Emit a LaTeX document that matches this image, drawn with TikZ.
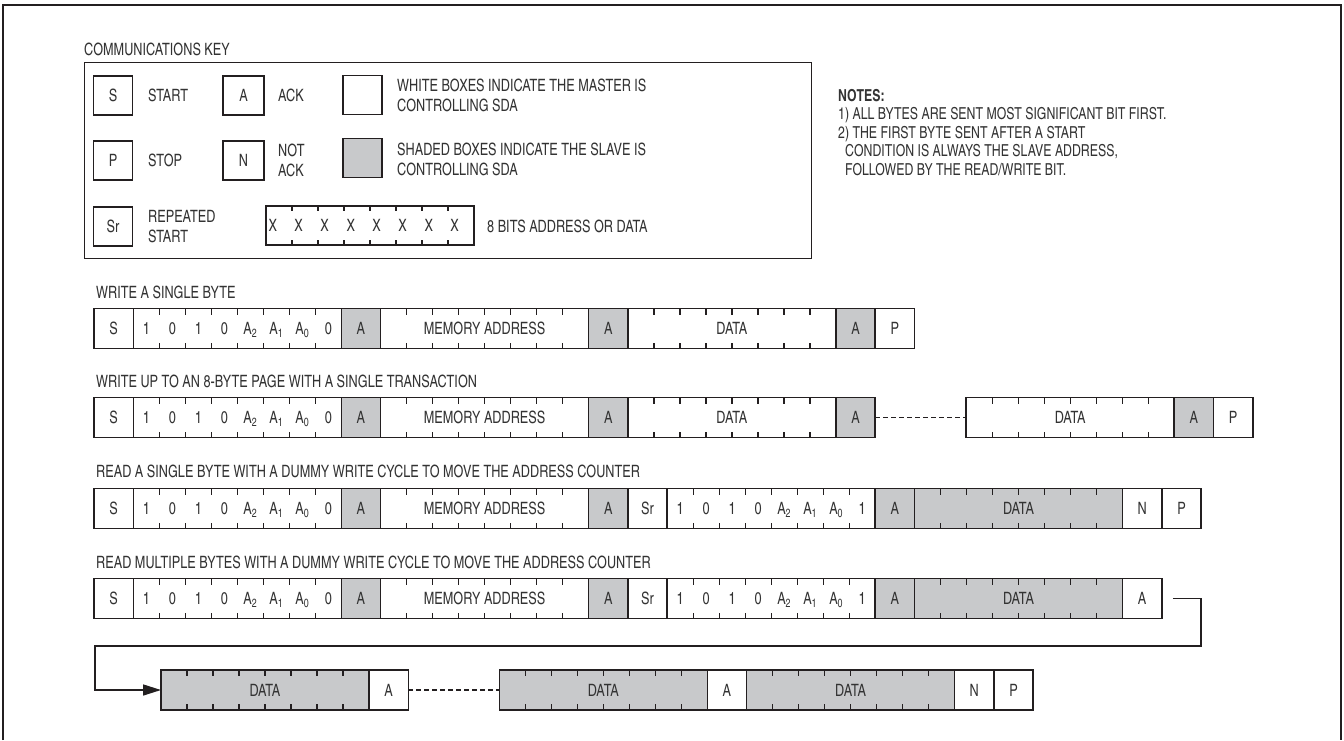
\documentclass[tikz,border=0pt]{standalone}
\usepackage{fontspec}
\setmainfont{TeX Gyre Heros Cn}[FakeStretch=0.91]
\usetikzlibrary{arrows.meta, positioning, calc}
\definecolor{linedark}{HTML}{231F20}
\definecolor{textdark}{HTML}{333333}
\definecolor{slavegray}{HTML}{C8C9CB}

\newcommand{\diagfont}{\fontsize{17bp}{20bp}\selectfont}
\newcommand{\notefont}{\fontsize{16.5bp}{18.5bp}\selectfont}
\newcommand{\bitcell}[1]{\makebox[26bp]{#1}}
\newcommand{\slaveaddr}[1]{\bitcell{1}\bitcell{0}\bitcell{1}\bitcell{0}\bitcell{A\textsubscript{2}}\bitcell{A\textsubscript{1}}\bitcell{A\textsubscript{0}}\bitcell{#1}}
\newcommand{\xcell}{\makebox[26bp][l]{\hspace*{2.5bp}X}}

\begin{document}
\begin{tikzpicture}[
    x=1bp, y=-1bp,
    every node/.style={font=\diagfont, text=textdark},
    >={Triangle[length=18bp, width=11bp]},
    ticked/.style={path picture={
        \foreach \k in {1,...,7} {
          \draw[linedark, line width=1.2bp]
            ($(path picture bounding box.north west)!{\k/8}!(path picture bounding box.north east)$) -- ++(0,#1)
            ($(path picture bounding box.south west)!{\k/8}!(path picture bounding box.south east)$) -- ++(0,-#1);
        }}},
    cell/.style={draw=linedark, fill=white, line width=1.6bp, inner sep=0pt, outer sep=0pt,
                 minimum height=40bp, text height=12bp, text depth=0pt},
    single/.style={cell, minimum width=39.3bp},
    byte/.style={cell, minimum width=208bp, ticked=6},
    slave/.style={fill=slavegray},
    keysym/.style={cell, minimum width=39bp, minimum height=39bp},
    keytext/.style={anchor=west, align=left, inner sep=0pt},
    rowlabel/.style={anchor=west, inner sep=0pt},
    dashline/.style={draw=linedark, line width=1.2bp, dash pattern=on 5bp off 3bp},
    wire/.style={draw=linedark, line width=1.6bp},
]

\useasboundingbox (0,0) rectangle (1344,740);

% Outer frame (open at the bottom)
\draw[linedark, line width=2.6bp] (3,740) |- (1341,5) -- (1341,740);

% =============================================
% COMMUNICATIONS KEY
% =============================================
\node[rowlabel] (keytitle) at (84,49) {COMMUNICATIONS KEY};
\node[draw=linedark, line width=1.4bp, anchor=north west, inner sep=0pt,
      minimum width=727bp, minimum height=196bp] (keyframe) at (84,62) {};

\node[keysym] (kstart) at (113,95.5) {S};
\node[keytext] (kstarttxt) at (148,95.5) {START};
\node[keysym, minimum width=41bp] (kack) at (243.5,95.5) {A};
\node[keytext] (kacktxt) at (278,95.5) {ACK};
\node[keysym] (kmaster) at (362.5,95) {};
\node[keytext] (kmastertxt) at (397,95) {WHITE BOXES INDICATE THE MASTER IS\\CONTROLLING SDA};

\node[keysym] (kstop) at (113,160.5) {P};
\node[keytext] (kstoptxt) at (148,160.5) {STOP};
\node[keysym, minimum width=41bp] (knack) at (243.5,160.5) {N};
\node[keytext] (knacktxt) at (278,160) {NOT\\ACK};
\node[keysym, slave] (kslave) at (362.5,158) {};
\node[keytext] (kslavetxt) at (397,159.5) {SHADED BOXES INDICATE THE SLAVE IS\\CONTROLLING SDA};

\node[keysym] (krestart) at (113,226.5) {Sr};
\node[keytext] (krestarttxt) at (148,226.5) {REPEATED\\START};
\node[keysym, minimum width=208bp, ticked=5] (kbits) at (370,225.5)
     {\xcell\xcell\xcell\xcell\xcell\xcell\xcell\xcell};
\node[keytext] (kbitstxt) at (487,226.5) {8 BITS ADDRESS OR DATA};

% Notes
\node[anchor=north west, align=left, inner sep=0pt, font=\notefont] (notes) at (838,89)
     {\textbf{NOTES:}\\
      1) ALL BYTES ARE SENT MOST SIGNIFICANT BIT FIRST.\\
      2) THE FIRST BYTE SENT AFTER A START\\
      \hspace*{7bp}CONDITION IS ALWAYS THE SLAVE ADDRESS,\\
      \hspace*{7bp}FOLLOWED BY THE READ/WRITE BIT.};

% =============================================
% WRITE A SINGLE BYTE
% =============================================
\node[rowlabel] (lblwrite) at (96,292) {WRITE A SINGLE BYTE};
\node[single, anchor=west] (ws) at (94,328.5) {S};
\node[byte, right=0pt of ws] (wdev) {\slaveaddr{0}};
\node[single, slave, right=0pt of wdev] (wack1) {A};
\node[byte, right=0pt of wack1] (wmem) {MEMORY ADDRESS};
\node[single, slave, right=0pt of wmem] (wack2) {A};
\node[byte, right=0pt of wack2] (wdata) {DATA};
\node[single, slave, right=0pt of wdata] (wack3) {A};
\node[single, right=0pt of wack3] (wp) {P};

% =============================================
% WRITE A PAGE
% =============================================
\node[rowlabel] (lblpage) at (96,381) {WRITE UP TO AN 8-BYTE PAGE WITH A SINGLE TRANSACTION};
\node[single, anchor=west] (ps) at (94,417.5) {S};
\node[byte, right=0pt of ps] (pdev) {\slaveaddr{0}};
\node[single, slave, right=0pt of pdev] (pack1) {A};
\node[byte, right=0pt of pack1] (pmem) {MEMORY ADDRESS};
\node[single, slave, right=0pt of pmem] (pack2) {A};
\node[byte, right=0pt of pack2] (pdata1) {DATA};
\node[single, slave, right=0pt of pdata1] (pack3) {A};
\node[byte, right=91bp of pack3] (pdatan) {DATA};
\node[single, slave, right=0pt of pdatan] (packn) {A};
\node[single, right=0pt of packn] (pp) {P};
\draw[dashline] (pack3) -- (pdatan);

% =============================================
% READ A SINGLE BYTE
% =============================================
\node[rowlabel] (lblread) at (96,471) {READ A SINGLE BYTE WITH A DUMMY WRITE CYCLE TO MOVE THE ADDRESS COUNTER};
\node[single, anchor=west] (rs) at (94,508.5) {S};
\node[byte, right=0pt of rs] (rdev) {\slaveaddr{0}};
\node[single, slave, right=0pt of rdev] (rack1) {A};
\node[byte, right=0pt of rack1] (rmem) {MEMORY ADDRESS};
\node[single, slave, right=0pt of rmem] (rack2) {A};
\node[single, right=0pt of rack2] (rsr) {Sr};
\node[byte, right=0pt of rsr] (rdevrd) {\slaveaddr{1}};
\node[single, slave, right=0pt of rdevrd] (rack3) {A};
\node[byte, slave, right=0pt of rack3] (rdata) {DATA};
\node[single, right=0pt of rdata] (rnack) {N};
\node[single, right=0pt of rnack] (rp) {P};

% =============================================
% READ MULTIPLE BYTES
% =============================================
\node[rowlabel] (lblmulti) at (96,562) {READ MULTIPLE BYTES WITH A DUMMY WRITE CYCLE TO MOVE THE ADDRESS COUNTER};
\node[single, anchor=west] (ms) at (94,598.5) {S};
\node[byte, right=0pt of ms] (mdev) {\slaveaddr{0}};
\node[single, slave, right=0pt of mdev] (mack1) {A};
\node[byte, right=0pt of mack1] (mmem) {MEMORY ADDRESS};
\node[single, slave, right=0pt of mmem] (mack2) {A};
\node[single, right=0pt of mack2] (msr) {Sr};
\node[byte, right=0pt of msr] (mdevrd) {\slaveaddr{1}};
\node[single, slave, right=0pt of mdevrd] (mack3) {A};
\node[byte, slave, right=0pt of mack3] (mdata1) {DATA};
\node[single, right=0pt of mdata1] (mack4) {A};

% continuation
\node[byte, slave, anchor=west] (mdata2) at (161,690) {DATA};
\node[single, right=0pt of mdata2] (mack5) {A};
\node[byte, slave, right=91bp of mack5] (mdata3) {DATA};
\node[single, right=0pt of mdata3] (mack6) {A};
\node[byte, slave, right=0pt of mack6] (mdatan) {DATA};
\node[single, right=0pt of mdatan] (mnack) {N};
\node[single, right=0pt of mnack] (mp) {P};
\draw[dashline] (mack5) -- (mdata3);

\coordinate (loopright) at (1201,646);
\coordinate (loopleft) at (95,646);
\draw[wire, ->] ([xshift=11bp]mack4.east) -| (loopright) -- (loopleft) |- (mdata2.west);

\end{tikzpicture}
\end{document}
